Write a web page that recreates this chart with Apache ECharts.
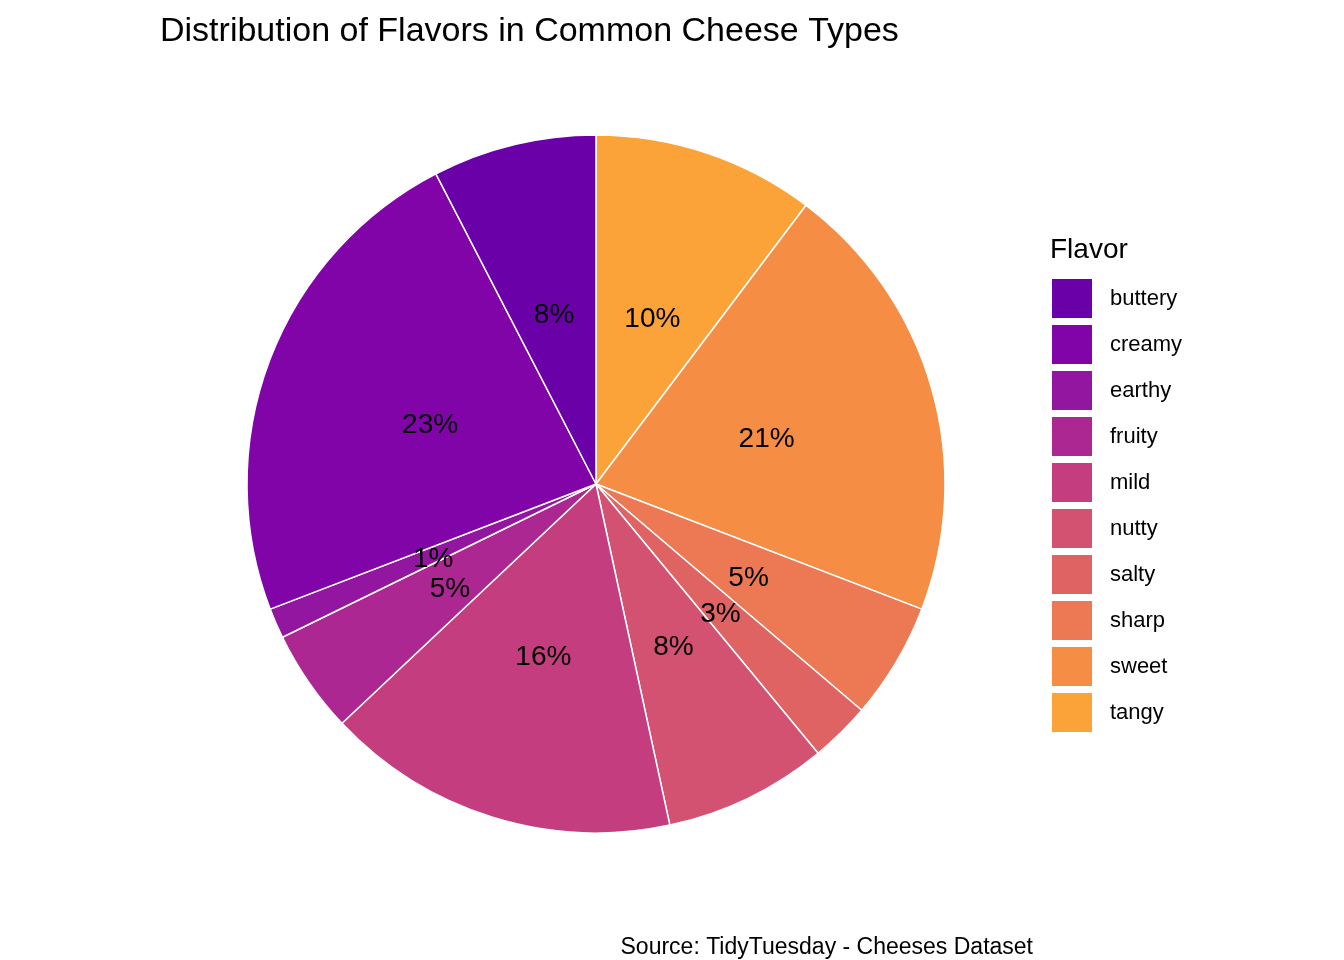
<!DOCTYPE html>
<html>
<head>
<meta charset="utf-8">
<script src="https://cdn.jsdelivr.net/npm/echarts@6/dist/echarts.min.js"></script>
<style>
  html, body { margin: 0; padding: 0; background: #fff; }
  #chart { width: 1344px; height: 960px; }
</style>
</head>
<body>
<div id="chart"></div>
<script>
// slices in drawing order (clockwise from 12 o'clock)
const flavors = ['tangy', 'sweet', 'sharp', 'salty', 'nutty', 'mild', 'fruity', 'earthy', 'creamy', 'buttery'];
const shares = [10.3, 20.6, 5.4, 2.8, 7.6, 16.4, 4.8, 1.4, 23.3, 7.6];
const colors = ['#FBA339', '#F58D45', '#EC7854', '#E06363', '#D35171', '#C43E7F', '#AD2793', '#9316A0', '#8004A8', '#6A00A8'];
// legend lists them alphabetically
const legendOrder = ['buttery', 'creamy', 'earthy', 'fruity', 'mild', 'nutty', 'salty', 'sharp', 'sweet', 'tangy'];

const font = 'Liberation Sans, Arial, sans-serif';

const chart = echarts.init(document.getElementById('chart'));

chart.setOption({
  animation: false,
  title: [
    {
      text: 'Distribution of Flavors in Common Cheese Types',
      left: 160,
      top: 15,
      padding: 0,
      textStyle: { fontFamily: font, fontSize: 34, fontWeight: 'normal', color: '#000' }
    },
    {
      text: 'Flavor',
      left: 1050,
      top: 236,
      padding: 0,
      textStyle: { fontFamily: font, fontSize: 28, fontWeight: 'normal', color: '#000' }
    },
    {
      text: 'Source: TidyTuesday - Cheeses Dataset',
      right: 311,
      top: 936,
      padding: 0,
      textStyle: { fontFamily: font, fontSize: 23, fontWeight: 'normal', color: '#000' }
    }
  ],
  legend: {
    orient: 'vertical',
    left: 1050,
    top: 277,
    padding: 0,
    itemWidth: 42,
    itemHeight: 41,
    itemGap: 3,
    icon: 'rect',
    data: legendOrder,
    textStyle: { fontFamily: font, fontSize: 22, color: '#000', padding: [6, 0, 0, 12] }
  },
  series: [{
    type: 'pie',
    center: [596, 484],
    radius: 349,
    startAngle: 90,
    clockwise: true,
    percentPrecision: 2,
    avoidLabelOverlap: false,
    data: flavors.map((f, i) => ({
      name: f,
      value: shares[i],
      itemStyle: { color: colors[i] }
    })),
    itemStyle: { borderColor: '#fff', borderWidth: 1.5 },
    label: {
      position: 'inside',
      formatter: p => Math.round(p.percent) + '%',
      fontFamily: font,
      fontSize: 28,
      color: '#000',
      offset: [0, 4]
    },
    labelLine: { show: false },
    emphasis: { disabled: true }
  }]
});
</script>
</body>
</html>
